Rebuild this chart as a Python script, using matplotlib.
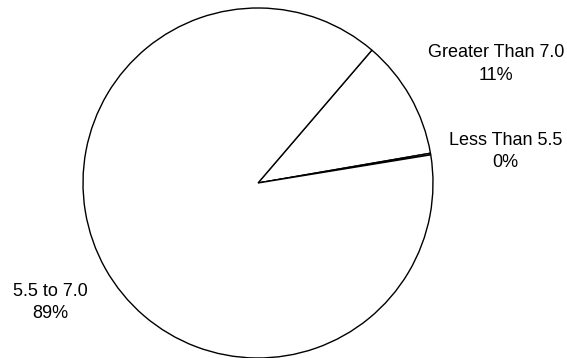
import matplotlib.pyplot as plt

# slice data, clockwise from the upper-right edge
categories = ["Greater Than 7.0", "Less Than 5.5", "5.5 to 7.0"]
shares = [11.0, 0.15, 88.85]

# label centres in pie-radius units
label_pos = [(1.36, 0.68), (1.415, 0.18), (-1.186, -0.685)]

plt.rcParams["font.family"] = ["Liberation Sans", "DejaVu Sans"]

fig = plt.figure(figsize=(5.67, 3.58), dpi=100)
ax = fig.add_axes([83 / 567, 0.0, 350 / 567, 350 / 358])

start = 49.4
ax.pie(
    shares,
    startangle=start,
    counterclock=False,
    colors=["white"] * len(shares),
    wedgeprops={"edgecolor": "black", "linewidth": 1.0},
    radius=1.0,
)

total = sum(shares)
for name, val, (x, y) in zip(categories, shares, label_pos):
    pct = round(100 * val / total)
    ax.text(x, y, f"{name}\n{pct}%", ha="center", va="center",
            fontsize=13, linespacing=1.4)

ax.set_xlim(-1, 1)
ax.set_ylim(-1, 1)
ax.set_aspect("equal")
ax.axis("off")

fig.savefig("out.png", dpi=100)
